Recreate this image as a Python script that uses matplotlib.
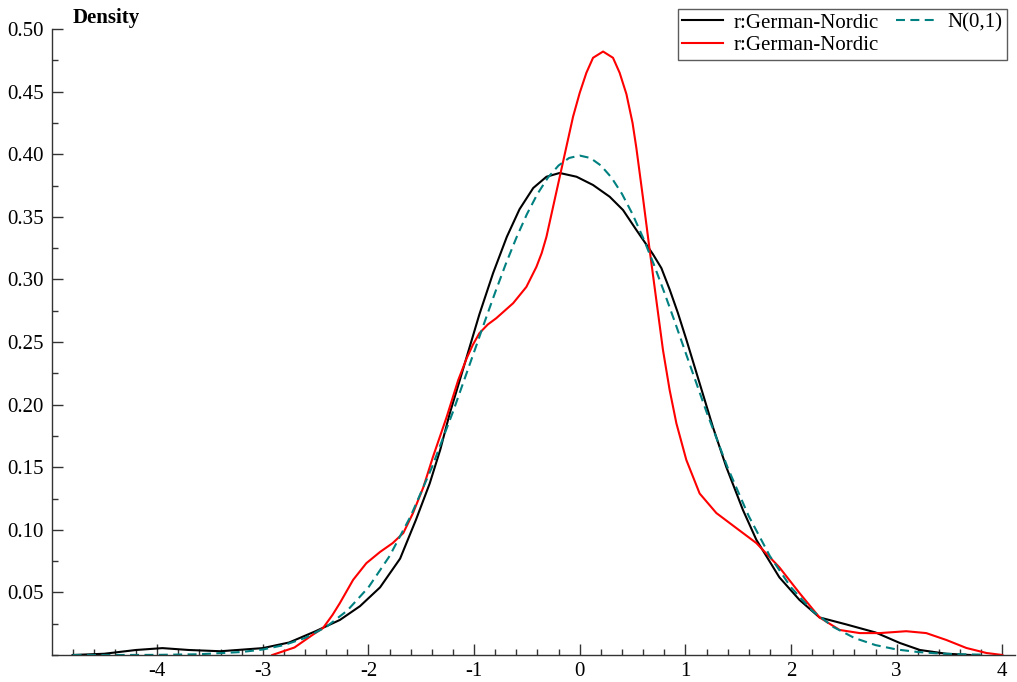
#density of scaled residuals vs standard normal
import numpy as np
import matplotlib
matplotlib.use('Agg')
import matplotlib.pyplot as plt
from matplotlib.ticker import MultipleLocator, FixedLocator

plt.rcParams['font.family'] = ['Liberation Serif', 'DejaVu Serif']

# black density
black_x = [-4.8, -4.5, -4.2, -3.95, -3.7, -3.4, -3.0, -2.75, -2.5, -2.27, -2.08, -1.89, -1.70,
           -1.55, -1.42, -1.32, -1.23, -1.135, -1.07, -0.95, -0.82, -0.69, -0.57, -0.44, -0.315,
           -0.19, -0.03, 0.126, 0.284, 0.41, 0.536, 0.694, 0.773, 0.851, 0.93, 1.009, 1.135,
           1.261, 1.388, 1.545, 1.672, 1.89, 2.08, 2.27, 2.52, 2.80, 3.03, 3.22, 3.47, 3.70]
black_y = [0.0, 0.001, 0.004, 0.0055, 0.004, 0.003, 0.0055, 0.010, 0.019, 0.028, 0.039, 0.054,
           0.077, 0.108, 0.137, 0.164, 0.193, 0.2196, 0.238, 0.272, 0.305, 0.334, 0.356, 0.373,
           0.382, 0.385, 0.382, 0.3754, 0.366, 0.3554, 0.3395, 0.320, 0.309, 0.292, 0.273,
           0.252, 0.217, 0.182, 0.150, 0.1158, 0.092, 0.062, 0.044, 0.030, 0.0245, 0.018,
           0.0096, 0.004, 0.001, 0.0]

# red density
red_x = [-2.91, -2.70, -2.53, -2.43, -2.34, -2.27, -2.145, -2.02, -1.89, -1.77, -1.67, -1.58,
         -1.48, -1.39, -1.26, -1.15, -1.07, -1.01, -0.95, -0.87, -0.79, -0.63, -0.505, -0.41,
         -0.36, -0.315, -0.252, -0.189, -0.126, -0.063, 0.0, 0.063, 0.126, 0.221, 0.315, 0.378,
         0.442, 0.50, 0.536, 0.599, 0.662, 0.725, 0.788, 0.851, 0.915, 1.009, 1.135, 1.293,
         1.482, 1.672, 1.89, 2.08, 2.27, 2.46, 2.65, 2.84, 3.09, 3.28, 3.47, 3.66, 3.85, 4.0]
red_y = [0.0, 0.006, 0.016, 0.0215, 0.032, 0.0415, 0.060, 0.0733, 0.0823, 0.0894, 0.0974, 0.113,
         0.134, 0.158, 0.190, 0.2196, 0.237, 0.248, 0.257, 0.264, 0.269, 0.281, 0.294, 0.310,
         0.321, 0.334, 0.358, 0.382, 0.406, 0.430, 0.449, 0.465, 0.477, 0.482, 0.477, 0.465,
         0.448, 0.425, 0.405, 0.365, 0.3235, 0.2835, 0.2436, 0.2117, 0.185, 0.1558, 0.129,
         0.1134, 0.1014, 0.0894, 0.070, 0.0495, 0.030, 0.020, 0.0175, 0.0175, 0.019, 0.0175,
         0.012, 0.0056, 0.0016, 0.0]

# N(0,1) reference
norm_x = [-4.8, -4.4, -4.0, -3.6, -3.2, -3.0, -2.8, -2.6, -2.4, -2.2, -2.0, -1.8, -1.6, -1.4,
          -1.2, -1.0, -0.9, -0.8, -0.7, -0.6, -0.5, -0.4, -0.3, -0.2, -0.1, 0.0, 0.1, 0.2, 0.3,
          0.4, 0.5, 0.6, 0.7, 0.8, 0.9, 1.0, 1.2, 1.4, 1.6, 1.8, 2.0, 2.2, 2.4, 2.6, 2.8, 3.0,
          3.2, 3.4, 3.6, 3.8]
norm_y = [0.0, 0.0, 0.0001, 0.0006, 0.0024, 0.0044, 0.0079, 0.0136, 0.0224, 0.0355, 0.054,
          0.079, 0.1109, 0.1497, 0.1942, 0.242, 0.2661, 0.2897, 0.3123, 0.3332, 0.3521, 0.3683,
          0.3814, 0.391, 0.397, 0.3989, 0.397, 0.391, 0.3814, 0.3683, 0.3521, 0.3332, 0.3123,
          0.2897, 0.2661, 0.242, 0.1942, 0.1497, 0.1109, 0.079, 0.054, 0.0355, 0.0224, 0.0136,
          0.0079, 0.0044, 0.0024, 0.0012, 0.0006, 0.0003]

fig = plt.figure(figsize=(10.17, 6.82), dpi=100)
ax = fig.add_axes([52/1017, 1-655/682, (1015-52)/1017, (655-29)/682])

l1, = ax.plot(black_x, black_y, color='black', lw=1.5, label='r:German-Nordic')
l2, = ax.plot(red_x, red_y, color='#ff0000', lw=1.5, label='r:German-Nordic')
l3, = ax.plot(norm_x, norm_y, color='#008080', lw=1.5, dashes=(4.3, 2.6), label='N(0,1)')

ax.set_xlim(-4.995, 4.12)
ax.set_ylim(0, 0.5)
for s in ['top', 'right']:
    ax.spines[s].set_visible(False)
for s in ['left', 'bottom']:
    ax.spines[s].set_linewidth(1.0)
    ax.spines[s].set_color('#333333')

ax.xaxis.set_major_locator(FixedLocator([-4, -3, -2, -1, 0, 1, 2, 3, 4]))
ax.xaxis.set_minor_locator(MultipleLocator(0.2))
ax.yaxis.set_major_locator(FixedLocator([0.05, 0.1, 0.15, 0.2, 0.25, 0.3, 0.35, 0.4, 0.45, 0.5]))
ax.yaxis.set_minor_locator(MultipleLocator(0.025))
ax.set_xticklabels(['-4', '-3', '-2', '-1', '0', '1', '2', '3', '4'])
ax.set_yticklabels(['0.05', '0.10', '0.15', '0.20', '0.25', '0.30', '0.35', '0.40', '0.45', '0.50'])
ax.tick_params(which='major', direction='in', length=8, width=1.0, color='#333333',
               labelsize=15, pad=5)
ax.tick_params(which='minor', direction='in', length=4, width=1.0, color='#333333')
ax.tick_params(axis='y', pad=6)

fig.text(73/1017, 1-18/682, 'Density', fontsize=15, fontweight='bold', va='center', ha='left')

leg = fig.legend(handles=[l1, l2, l3], ncol=2, fontsize=15, loc='upper right',
                 bbox_to_anchor=(1007/1017, 1-9/682), frameon=True, fancybox=False,
                 handlelength=2.0, handletextpad=0.5, columnspacing=0.8,
                 borderpad=0.2, labelspacing=0.15, borderaxespad=0)
leg.get_frame().set_edgecolor('#333333')
leg.get_frame().set_linewidth(1.0)

fig.savefig('out.png', dpi=100)
